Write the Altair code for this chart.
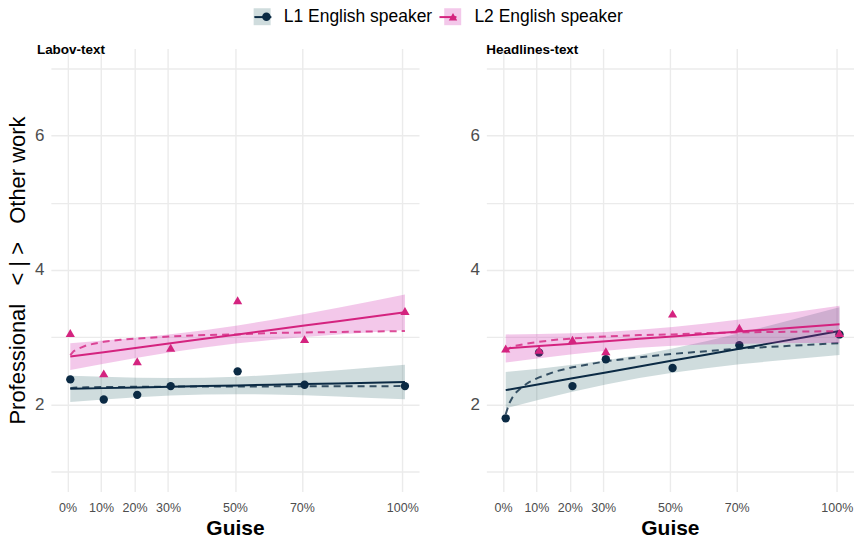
import altair as alt
import pandas as pd

PANELS = ["Labov-text", "Headlines-text"]
GROUPS = ["L1 English speaker", "L2 English speaker"]
GUISE = [0, 10, 20, 30, 50, 70, 100]

# mean ratings (points)
labov_l1 = [2.37, 2.07, 2.14, 2.27, 2.49, 2.29, 2.27]
labov_l2 = [3.06, 2.46, 2.64, 2.84, 3.55, 2.97, 3.39]
head_l1 = [1.79, 2.77, 2.27, 2.67, 2.54, 2.88, 3.04]
head_l2 = [2.83, 2.81, 2.96, 2.79, 3.35, 3.14, 3.06]

# linear fits with confidence bands
FIT_X = [0, 10, 20, 30, 40, 50, 60, 70, 80, 90, 100]
labov_l1_fit = [2.23, 2.24, 2.25, 2.26, 2.27, 2.28, 2.29, 2.30, 2.31, 2.32, 2.33]
labov_l1_lo = [2.035, 2.072, 2.105, 2.13, 2.146, 2.15, 2.145, 2.132, 2.115, 2.094, 2.073]
labov_l1_hi = [2.425, 2.408, 2.395, 2.39, 2.394, 2.41, 2.435, 2.468, 2.505, 2.546, 2.587]
labov_l2_fit = [2.71, 2.776, 2.842, 2.908, 2.974, 3.04, 3.106, 3.172, 3.238, 3.304, 3.37]
labov_l2_lo = [2.51, 2.604, 2.693, 2.775, 2.847, 2.907, 2.957, 3.0, 3.038, 3.073, 3.106]
labov_l2_hi = [2.91, 2.948, 2.991, 3.041, 3.101, 3.173, 3.255, 3.344, 3.438, 3.535, 3.634]
head_l1_fit = [2.21, 2.298, 2.386, 2.474, 2.562, 2.65, 2.738, 2.826, 2.914, 3.002, 3.09]
head_l1_lo = [1.94, 2.066, 2.185, 2.294, 2.39, 2.47, 2.537, 2.594, 2.644, 2.69, 2.734]
head_l1_hi = [2.48, 2.53, 2.587, 2.654, 2.734, 2.83, 2.939, 3.058, 3.184, 3.314, 3.446]
head_l2_fit = [2.83, 2.866, 2.902, 2.938, 2.974, 3.01, 3.046, 3.082, 3.118, 3.154, 3.19]
head_l2_lo = [2.62, 2.685, 2.746, 2.798, 2.84, 2.87, 2.89, 2.901, 2.908, 2.911, 2.913]
head_l2_hi = [3.04, 3.047, 3.058, 3.078, 3.108, 3.15, 3.202, 3.263, 3.328, 3.397, 3.467]

# log fits (dashed)
DASH_X = [0, 1, 2, 3, 5, 7, 10, 15, 20, 30, 40, 50, 60, 70, 85, 100]
labov_l1_dash = [2.24, 2.245, 2.248, 2.25, 2.252, 2.254, 2.256, 2.258, 2.26, 2.262, 2.264, 2.265, 2.266, 2.267, 2.269, 2.27]
labov_l2_dash = [2.73, 2.79, 2.82, 2.84, 2.88, 2.90, 2.93, 2.96, 2.98, 3.01, 3.03, 3.04, 3.06, 3.07, 3.08, 3.09]
head_l1_dash = [1.85, 2.01, 2.10, 2.17, 2.26, 2.33, 2.40, 2.49, 2.55, 2.64, 2.70, 2.75, 2.79, 2.83, 2.87, 2.91]
head_l2_dash = [2.78, 2.83, 2.86, 2.87, 2.89, 2.91, 2.93, 2.96, 2.98, 3.01, 3.03, 3.04, 3.06, 3.07, 3.08, 3.09]

LINE_COLORS = ["#0b2a44", "#d4237f"]
BAND_COLORS = ["#3f7377", "#cf23ab"]
SHAPES = ["circle", "triangle-up"]
# same legend text; trailing spaces keep the three overlaid legends apart
BAND_KEYS = [g + " " for g in GROUPS]
LINE_KEYS = [g + "  " for g in GROUPS]

pts_rows, band_rows, dash_rows = [], [], []
series = {
    ("Labov-text", 0): (labov_l1, labov_l1_fit, labov_l1_lo, labov_l1_hi, labov_l1_dash),
    ("Labov-text", 1): (labov_l2, labov_l2_fit, labov_l2_lo, labov_l2_hi, labov_l2_dash),
    ("Headlines-text", 0): (head_l1, head_l1_fit, head_l1_lo, head_l1_hi, head_l1_dash),
    ("Headlines-text", 1): (head_l2, head_l2_fit, head_l2_lo, head_l2_hi, head_l2_dash),
}
for (p, gi), (pv, fv, lo, hi, dv) in series.items():
    g = GROUPS[gi]
    for x, v in zip(GUISE, pv):
        pts_rows.append({"panel": p, "group": g, "x": x, "y": v})
    for x, f, l, h in zip(FIT_X, fv, lo, hi):
        band_rows.append({"panel": p, "group": g, "band": BAND_KEYS[gi], "line": LINE_KEYS[gi],
                          "x": x, "fit": f, "lo": l, "hi": h})
    for x, v in zip(DASH_X, dv):
        dash_rows.append({"panel": p, "group": g, "line": LINE_KEYS[gi], "x": x, "y": v})

pts_df = pd.DataFrame(pts_rows)
band_df = pd.DataFrame(band_rows)
dash_df = pd.DataFrame(dash_rows)

LX, LY = 203, -41
common_leg = dict(orient="none", legendX=LX, legendY=LY, direction="horizontal", title=None,
                  labelFont="Liberation Sans", labelFontSize=17.5, labelColor="black",
                  labelOffset=13, padding=0, labelLimit=300)
# band key: squares, carries the visible labels
fill_leg = alt.Legend(symbolType="square", symbolSize=289, symbolOpacity=0.25, symbolStrokeWidth=0,
                      columnPadding=11, **common_leg)
# line through the key, no labels
line_leg = alt.Legend(symbolType="stroke", symbolSize=289, symbolStrokeWidth=2, symbolOpacity=1,
                      labelExpr="''", columnPadding=150.5, **common_leg)
# point marker in the key, no labels
mark_leg = alt.Legend(symbolSize=72, symbolOpacity=1, symbolStrokeWidth=0, symbolOffset=4.3,
                      labelExpr="''", columnPadding=152, **common_leg)

YTITLE = "Professional\u00a0\u00a0\u00a0<\u00a0|\u00a0>\u00a0\u00a0\u00a0Other work"


def panel(name, ytitle, dx):
    xaxis = alt.Axis(values=GUISE, labelExpr="datum.value + '%'", title="Guise",
                     labelFontSize=12.5, labelPadding=10, titleFontSize=21, titleFontWeight="bold",
                     titlePadding=4, labelOverlap=False)
    yaxis = alt.Axis(values=[1, 2, 3, 4, 5, 6, 7],
                     labelExpr="datum.value % 2 == 0 ? datum.value : ''",
                     labelFontSize=17, labelPadding=7, title=ytitle,
                     titleFontSize=22, titleFontWeight="normal", titlePadding=4.5)
    xs = alt.Scale(domain=[-5, 105], nice=False, zero=False)
    ys = alt.Scale(domain=[0.7, 7.3], nice=False, zero=False)
    X = alt.X("xp:Q", scale=xs, axis=xaxis)
    stroke = alt.Stroke("line:N", scale=alt.Scale(domain=LINE_KEYS, range=LINE_COLORS), legend=line_leg)

    def filt(ch, g):
        return ch.transform_filter(
            (alt.datum.panel == name) & (alt.datum.group == g)
        ).transform_calculate(xp="datum.x + 0.8")

    layers = []
    for gi, g in enumerate(GROUPS):
        band = filt(alt.Chart(band_df), g).mark_area(opacity=0.25).encode(
            x=X,
            y=alt.Y("lo:Q", scale=ys, axis=yaxis),
            y2="hi:Q",
            fill=alt.Fill("band:N", scale=alt.Scale(domain=BAND_KEYS, range=BAND_COLORS), legend=fill_leg),
        )
        dash = filt(alt.Chart(dash_df), g).mark_line(strokeDash=[7, 5], strokeWidth=2, opacity=0.8).encode(
            x=X, y=alt.Y("y:Q", scale=ys, axis=yaxis), stroke=stroke,
        )
        solid = filt(alt.Chart(band_df), g).mark_line(strokeWidth=2).encode(
            x=X, y=alt.Y("fit:Q", scale=ys, axis=yaxis), stroke=stroke,
        )
        pts = filt(alt.Chart(pts_df), g).mark_point(
            filled=True, size=70 if gi == 0 else 85, opacity=1
        ).encode(
            x=X,
            y=alt.Y("y:Q", scale=ys, axis=yaxis),
            color=alt.Color("group:N", scale=alt.Scale(domain=GROUPS, range=LINE_COLORS), legend=mark_leg),
            shape=alt.Shape("group:N", scale=alt.Scale(domain=GROUPS, range=SHAPES), legend=mark_leg),
        )
        layers += [band, dash, solid, pts]

    return alt.layer(*layers).properties(
        width=369 if ytitle else 368, height=444,
        title=alt.TitleParams(name, anchor="start", frame="group", fontSize=13.5, fontWeight="bold",
                              font="Liberation Sans", color="black", offset=-8, dx=dx),
    )


left = panel("Labov-text", YTITLE, -14)
right = panel("Headlines-text", None, 0)

chart = alt.hconcat(left, right, spacing=50.5).resolve_scale(
    fill="shared", stroke="shared", color="shared", shape="shared"
).properties(
    padding={"left": 7, "top": 7, "right": 0, "bottom": 0}
).configure_view(stroke=None).configure_axis(
    grid=True, gridColor="#ebebeb", gridWidth=1.4, domain=False, ticks=False,
    labelFont="Liberation Sans", titleFont="Liberation Sans",
    labelColor="#4d4d4d", titleColor="black",
)

chart.save("out.html", embed_options={"renderer": "svg", "actions": False})
